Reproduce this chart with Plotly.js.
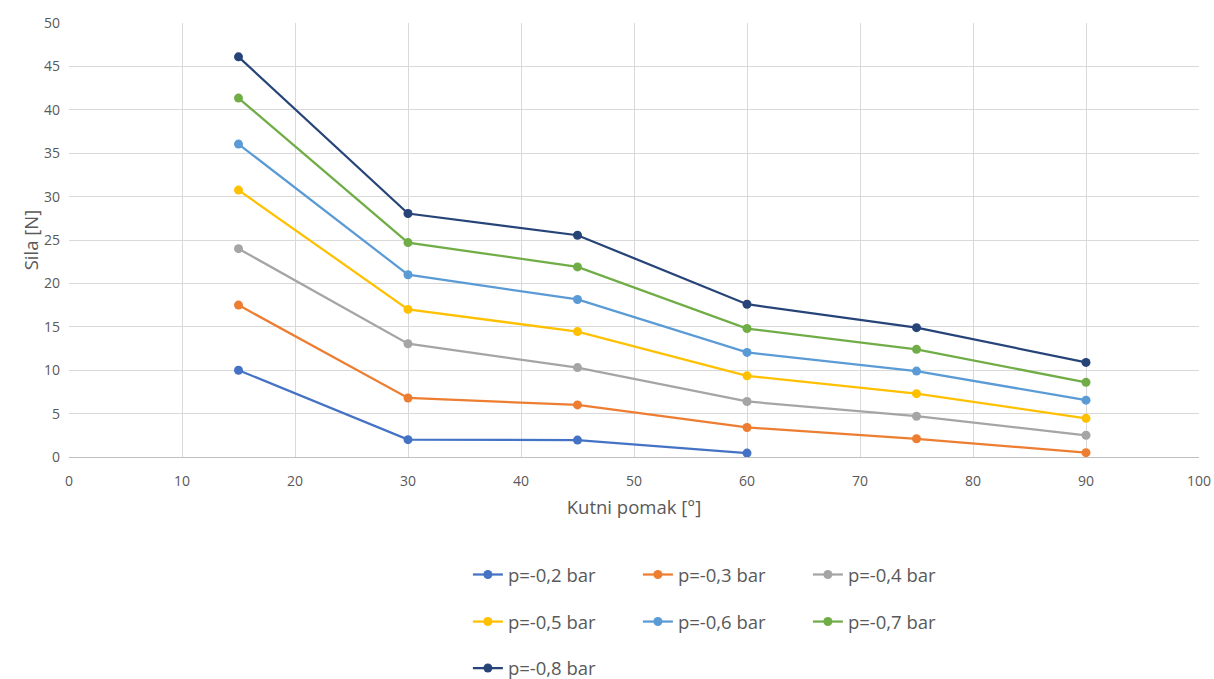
<!DOCTYPE html>
<html>
<head>
<meta charset="utf-8">
<script src="https://cdn.plot.ly/plotly-3.0.1.min.js"></script>
<style>html,body{margin:0;padding:0;background:#fff;}#chart{width:1214px;height:679px;}</style>
</head>
<body>
<div id="chart"></div>
<script>
const xValues = [15, 30, 45, 60, 75, 90];
const seriesNames = ["p=-0,2 bar", "p=-0,3 bar", "p=-0,4 bar", "p=-0,5 bar", "p=-0,6 bar", "p=-0,7 bar", "p=-0,8 bar"];
const p02 = [10.0, 2.0, 1.95, 0.45];
const p03 = [17.5, 6.8, 6.0, 3.4, 2.1, 0.5];
const p04 = [24.0, 13.05, 10.3, 6.4, 4.7, 2.5];
const p05 = [30.75, 17.0, 14.45, 9.35, 7.3, 4.45];
const p06 = [36.05, 21.0, 18.15, 12.05, 9.9, 6.55];
const p07 = [41.35, 24.7, 21.9, 14.8, 12.4, 8.6];
const p08 = [46.1, 28.05, 25.55, 17.6, 14.9, 10.9];
const seriesValues = [p02, p03, p04, p05, p06, p07, p08];
const colors = ["#4472C4", "#ED7D31", "#A5A5A5", "#FFC000", "#5B9BD5", "#70AD47", "#264478"];
const legendGroups = ["legend", "legend", "legend", "legend2", "legend2", "legend2", "legend3"];

const FONT = "'Open Sans', 'Noto Sans', sans-serif";

const traces = seriesValues.map((vals, i) => ({
  type: "scatter",
  mode: "lines+markers",
  name: seriesNames[i],
  x: xValues.slice(0, vals.length),
  y: vals,
  line: {color: colors[i], width: 2.25},
  marker: {color: colors[i], size: 9},
  legend: legendGroups[i]
}));

function leg(yc) {
  return {
    orientation: "h",
    x: 0.353, xanchor: "left",
    y: yc, yanchor: "middle", yref: "container",
    entrywidth: 125, entrywidthmode: "pixels",
    font: {family: FONT, size: 18.5, color: "#595959"},
    bgcolor: "rgba(0,0,0,0)",
    traceorder: "normal"
  };
}

const layout = {
  width: 1214, height: 679,
  paper_bgcolor: "#ffffff", plot_bgcolor: "#ffffff",
  margin: {l: 69, r: 15, t: 23, b: 222},
  font: {family: FONT, color: "#595959"},
  showlegend: true,
  xaxis: {
    range: [0, 100], dtick: 10, tick0: 0,
    showgrid: true, gridcolor: "#d9d9d9", gridwidth: 1,
    zeroline: false, showline: true, linecolor: "#bfbfbf", linewidth: 1, mirror: false,
    ticks: "", ticklabelstandoff: 11, tickfont: {family: FONT, size: 14, color: "#595959"},
    automargin: false,
    title: {text: "Kutni pomak [°]", font: {family: FONT, size: 18.5, color: "#595959"}, standoff: 12}
  },
  yaxis: {
    range: [0, 50], dtick: 5, tick0: 0,
    showgrid: true, gridcolor: "#d9d9d9", gridwidth: 1,
    zeroline: false, showline: false,
    ticks: "", ticklabelstandoff: 8, tickfont: {family: FONT, size: 14, color: "#595959"},
    automargin: false,
    title: {text: "Sila [N]", font: {family: FONT, size: 18.5, color: "#595959"}, standoff: 0}
  },
  legend: leg(0.1532),
  legend2: leg(0.0839),
  legend3: leg(0.0155)
};

Plotly.newPlot("chart", traces, layout, {displayModeBar: false, staticPlot: true});
</script>
</body>
</html>
